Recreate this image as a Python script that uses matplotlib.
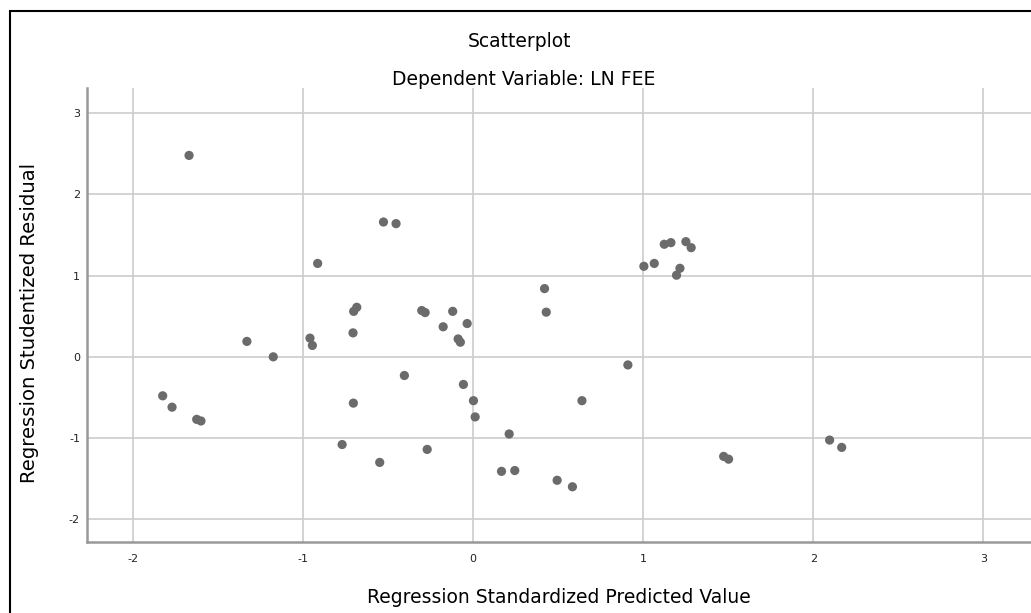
import matplotlib
matplotlib.use("Agg")
import matplotlib.pyplot as plt
from matplotlib.patches import Rectangle

# standardized predicted values (x) and studentized residuals (y)
pred = [-1.67, -0.527, -0.453, -0.914, -0.684, -0.702, -0.302, -0.282, -0.706,
        -1.33, -0.959, -0.945, -1.175, -0.404, -1.825, -1.77, -1.625, -1.60,
        -0.704, -0.77, -0.549, -0.27, -0.057, 0.002, 0.012, -0.12, -0.176,
        -0.035, -0.088, -0.075, 0.42, 0.43, 0.91, 0.64, 0.212, 0.167, 0.245,
        0.494, 0.584, 1.004, 1.065, 1.124, 1.163, 1.251, 1.282, 1.216, 1.196,
        1.473, 1.502, 2.096, 2.167]
resid = [2.48, 1.66, 1.64, 1.15, 0.61, 0.56, 0.57, 0.545, 0.295,
         0.19, 0.23, 0.14, 0.0, -0.23, -0.48, -0.62, -0.77, -0.79,
         -0.57, -1.08, -1.30, -1.14, -0.34, -0.54, -0.74, 0.56, 0.37,
         0.41, 0.22, 0.18, 0.84, 0.55, -0.10, -0.54, -0.95, -1.41, -1.40,
         -1.52, -1.60, 1.115, 1.15, 1.386, 1.406, 1.418, 1.344, 1.09, 1.005,
         -1.226, -1.26, -1.025, -1.115]
ticks = [-2, -1, 0, 1, 2, 3]

plt.rcParams['font.family'] = ['DejaVu Sans']
plt.rcParams['axes.unicode_minus'] = False

fig = plt.figure(figsize=(10.31, 6.13), dpi=100)
ax = fig.add_axes([87 / 1031, 71 / 613, 944 / 1031, 454 / 613])

ax.scatter(pred, resid, s=44, color='#6b6b6b', edgecolors='none', zorder=3)

ax.set_xlim(-2.27, 3.28)
ax.set_ylim(-2.28, 3.31)
ax.set_xticks(ticks)
ax.set_yticks(ticks)
ax.grid(True, color='#cccccc', linewidth=1.2)
ax.set_axisbelow(True)
ax.tick_params(length=0, labelsize=8, colors='#222222')
ax.tick_params(axis='x', pad=9)
ax.tick_params(axis='y', pad=5)
for side in ('top', 'right'):
    ax.spines[side].set_visible(False)
for side in ('left', 'bottom'):
    ax.spines[side].set_color('#999999')
    ax.spines[side].set_linewidth(1.8)

ax.set_xlabel('Regression Standardized Predicted Value', fontsize=13.5)
ax.set_ylabel('Regression Studentized Residual', fontsize=14.1)
ax.xaxis.set_label_coords(0.5, -0.101)
ax.yaxis.set_label_coords(-0.0507, 0.482)

fig.text(0.504, 0.9315, 'Scatterplot', ha='center', va='center', fontsize=13.5)
fig.text(0.508, 0.8695, 'Dependent Variable: LN FEE', ha='center', va='center',
         fontsize=13.5)

# outer frame of the output viewer
fig.patches.append(Rectangle((10 / 1031, -0.05), 1.2, (613 - 11) / 613 + 0.05,
                             transform=fig.transFigure, fill=False,
                             edgecolor='black', linewidth=1.5))

fig.savefig('out.png', dpi=100)
